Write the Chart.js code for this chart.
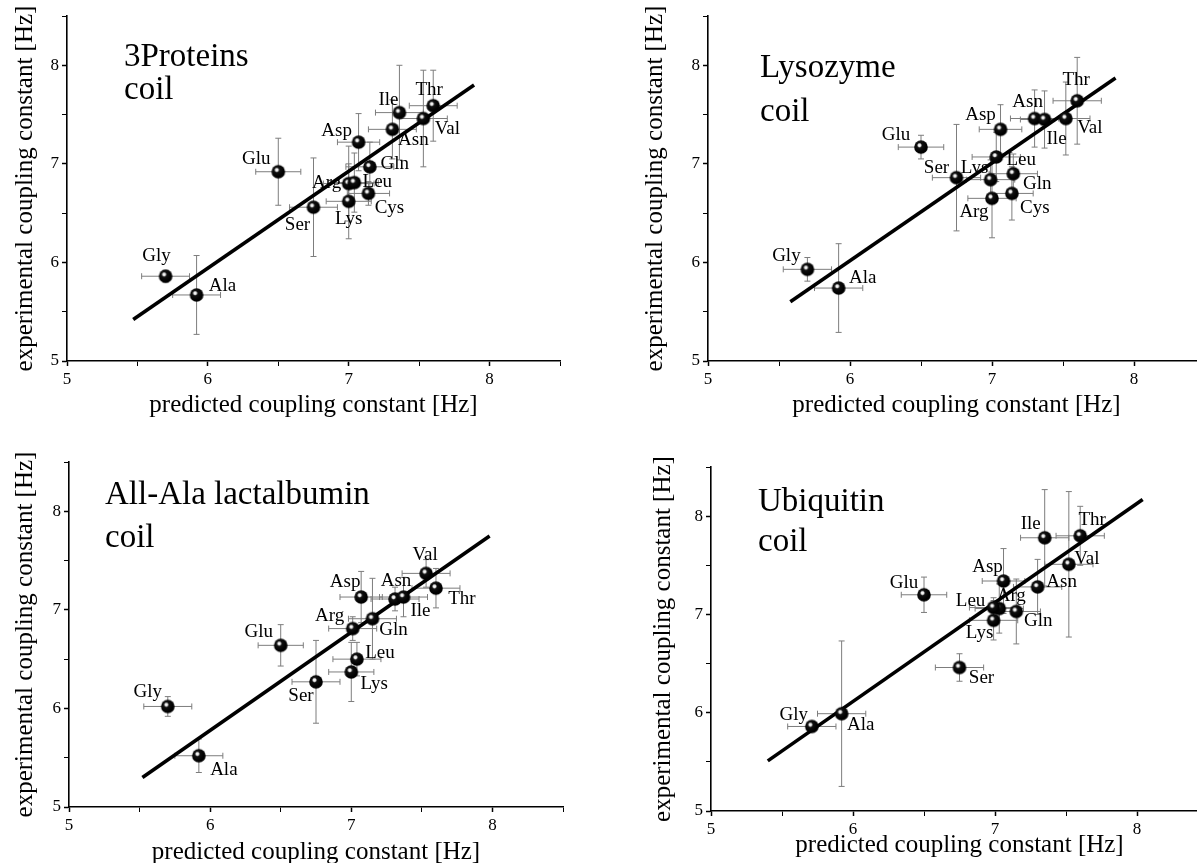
<!DOCTYPE html>
<html>
<head>
<meta charset="utf-8">
<script src="https://cdn.jsdelivr.net/npm/chart.js@4/dist/chart.umd.min.js"></script>
<style>
  html, body { margin: 0; padding: 0; background: #fff; overflow: hidden; width: 1197px; height: 863px; }
  canvas { position: absolute; }
  .ttl { position: absolute; font-family: "Liberation Serif", "Times New Roman", serif; font-size: 33px; line-height: 33px; color: #000; white-space: nowrap; }
</style>
</head>
<body>
<canvas id="c1" width="600" height="430" style="left:0;top:0"></canvas>
<canvas id="c2" width="620" height="430" style="left:600px;top:0"></canvas>
<canvas id="c3" width="600" height="450" style="left:0;top:430px"></canvas>
<canvas id="c4" width="620" height="450" style="left:600px;top:430px"></canvas>

<div class="ttl" style="left:124px;top:39px">3Proteins</div>
<div class="ttl" style="left:124px;top:72px">coil</div>
<div class="ttl" style="left:760px;top:50px">Lysozyme</div>
<div class="ttl" style="left:760px;top:94px">coil</div>
<div class="ttl" style="left:105px;top:477px">All-Ala lactalbumin</div>
<div class="ttl" style="left:105px;top:520px">coil</div>
<div class="ttl" style="left:758px;top:484px">Ubiquitin</div>
<div class="ttl" style="left:758px;top:524px">coil</div>

<script>
// residues, same order in every panel (null = not in that set)
const residues = ['Gly', 'Ala', 'Glu', 'Ser', 'Lys', 'Arg', 'Leu', 'Cys', 'Gln', 'Asp', 'Asn', 'Ile', 'Val', 'Thr'];

// 3Proteins coil
const proteinsPred    = [5.70, 5.92, 6.50, 6.75, 7.00, 7.00, 7.04, 7.14, 7.15, 7.07, 7.31, 7.36, 7.53, 7.60];
const proteinsExp     = [5.86, 5.67, 6.92, 6.56, 6.62, 6.80, 6.81, 6.70, 6.97, 7.22, 7.35, 7.52, 7.46, 7.59];
const proteinsPredErr = [0.17, 0.17, 0.16, 0.17, 0.16, 0.18, 0.17, 0.15, 0.17, 0.15, 0.17, 0.17, 0.17, 0.17];
const proteinsExpErr  = [0.06, 0.40, 0.34, 0.50, 0.38, 0.38, 0.30, 0.12, 0.25, 0.29, 0.30, 0.48, 0.49, 0.36];
const proteinsFitX = [5.47, 7.89];
const proteinsFitY = [5.42, 7.80];

// Lysozyme coil
const lysozymePred    = [5.70, 5.92, 6.50, 6.75, 6.99, 7.00, 7.03, 7.14, 7.15, 7.06, 7.30, 7.37, 7.52, 7.60];
const lysozymeExp     = [5.93, 5.74, 7.17, 6.86, 6.84, 6.65, 7.07, 6.70, 6.90, 7.35, 7.46, 7.45, 7.46, 7.64];
const lysozymePredErr = [0.17, 0.17, 0.16, 0.17, 0.17, 0.17, 0.17, 0.15, 0.17, 0.15, 0.17, 0.17, 0.17, 0.17];
const lysozymeExpErr  = [0.12, 0.45, 0.12, 0.54, 0.20, 0.40, 0.25, 0.27, 0.20, 0.25, 0.29, 0.29, 0.37, 0.44];
const lysozymeFitX = [5.58, 7.87];
const lysozymeFitY = [5.60, 7.87];

// All-Ala lactalbumin coil
const lactalbuminPred    = [5.70, 5.92, 6.50, 6.75, 7.00, 7.01, 7.04, null, 7.15, 7.07, 7.31, 7.37, 7.53, 7.60];
const lactalbuminExp     = [6.02, 5.52, 6.64, 6.27, 6.37, 6.81, 6.50, null, 6.91, 7.13, 7.11, 7.13, 7.37, 7.22];
const lactalbuminPredErr = [0.17, 0.17, 0.16, 0.17, 0.16, 0.17, 0.17, null, 0.17, 0.15, 0.17, 0.17, 0.17, 0.17];
const lactalbuminExpErr  = [0.10, 0.17, 0.21, 0.42, 0.30, 0.12, 0.17, null, 0.41, 0.26, 0.12, 0.20, 0.14, 0.20];
const lactalbuminFitX = [5.52, 7.98];
const lactalbuminFitY = [5.30, 7.75];

// Ubiquitin coil
const ubiquitinPred    = [5.71, 5.92, 6.50, 6.75, 6.99, 7.03, 6.99, null, 7.15, 7.06, 7.30, 7.35, 7.52, 7.60];
const ubiquitinExp     = [5.86, 5.99, 7.20, 6.46, 6.94, 7.06, 7.07, null, 7.03, 7.34, 7.28, 7.78, 7.51, 7.80];
const ubiquitinPredErr = [0.17, 0.17, 0.16, 0.17, 0.17, 0.17, 0.17, null, 0.17, 0.15, 0.17, 0.17, 0.17, 0.17];
const ubiquitinExpErr  = [0.04, 0.74, 0.18, 0.14, 0.20, 0.25, 0.10, null, 0.33, 0.33, 0.28, 0.49, 0.74, 0.30];
const ubiquitinFitX = [5.40, 8.04];
const ubiquitinFitY = [5.51, 8.17];

const axisTicks = [5, 6, 7, 8];

// where each residue name sits relative to its marker [dx, dy] px
const labelShift1 = [[-9,-20],[26,-9],[-22,-13],[-16,18],[0,18],[-22,-1],[23,-1],[21,15],[25,-3],[-22,-11],[21,11],[-11,-13],[24,11],[-4,-16]];
const labelShift2 = [[-21,-13],[24,-10],[-25,-12],[-20,-10],[-16,-12],[-18,14],[25,3],[23,15],[24,10],[-20,-14],[-7,-16],[12,20],[24,10],[-1,-21]];
const labelShift3 = [[-20,-14],[25,14],[-22,-13],[-15,14],[23,12],[-23,-13],[23,-6],null,[21,11],[-16,-15],[1,-18],[17,14],[-1,-18],[26,11]];
const labelShift4 = [[-18,-11],[19,11],[-20,-12],[22,11],[-14,13],[12,-13],[-23,-7],null,[22,10],[-16,-14],[24,-5],[-14,-14],[18,-5],[12,-16]];

const serif = '"Liberation Serif", "Times New Roman", serif';

function makeBall(r) {
  const c = document.createElement('canvas');
  const s = Math.ceil(r * 2) + 2;
  c.width = c.height = s;
  const g = c.getContext('2d');
  const cx = s / 2, cy = s / 2;
  const grad = g.createRadialGradient(cx - 1.5, cy - 1.8, 0, cx - 1.5, cy - 1.8, r);
  grad.addColorStop(0, '#fff');
  grad.addColorStop(0.2, '#e8e8e8');
  grad.addColorStop(0.38, '#111');
  grad.addColorStop(1, '#000');
  g.fillStyle = grad;
  g.beginPath();
  g.arc(cx, cy, r, 0, Math.PI * 2);
  g.fill();
  return c;
}
const ball = makeBall(6.8);

const errorBars = {
  id: 'errorBars',
  beforeDatasetsDraw(chart) {
    const xs = chart.scales.x, ys = chart.scales.y, ctx = chart.ctx;
    ctx.save();
    ctx.strokeStyle = '#7d7d7d';
    ctx.lineWidth = 1;
    chart.data.datasets[0].data.forEach(p => {
      const x = xs.getPixelForValue(p.x), y = ys.getPixelForValue(p.y);
      const x0 = xs.getPixelForValue(p.x - p.xe), x1 = xs.getPixelForValue(p.x + p.xe);
      const y0 = ys.getPixelForValue(p.y - p.ye), y1 = ys.getPixelForValue(p.y + p.ye);
      ctx.beginPath();
      ctx.moveTo(x0, y); ctx.lineTo(x1, y);
      ctx.moveTo(x0, y - 3); ctx.lineTo(x0, y + 3);
      ctx.moveTo(x1, y - 3); ctx.lineTo(x1, y + 3);
      ctx.moveTo(x, y0); ctx.lineTo(x, y1);
      ctx.moveTo(x - 3, y0); ctx.lineTo(x + 3, y0);
      ctx.moveTo(x - 3, y1); ctx.lineTo(x + 3, y1);
      ctx.stroke();
    });
    ctx.restore();
  }
};

const residueLabels = {
  id: 'residueLabels',
  afterDatasetsDraw(chart) {
    const xs = chart.scales.x, ys = chart.scales.y, ctx = chart.ctx;
    ctx.save();
    ctx.font = '19px ' + serif;
    ctx.fillStyle = '#000';
    ctx.textAlign = 'center';
    ctx.textBaseline = 'middle';
    chart.data.datasets[0].data.forEach(p => {
      ctx.fillText(p.name, xs.getPixelForValue(p.x) + p.shift[0], ys.getPixelForValue(p.y) + p.shift[1]);
    });
    ctx.restore();
  }
};

function axis(title, size, titlePad, fit) {
  return {
    type: 'linear', min: 5, max: 8.5,
    ticks: {
      stepSize: 0.5, autoSkip: false, maxRotation: 0, padding: 3,
      color: '#000', font: { family: serif, size: 17 },
      callback: v => axisTicks.includes(v) ? String(v) : ''
    },
    grid: {
      drawOnChartArea: false, drawTicks: true, tickLength: 5,
      tickColor: '#000', tickWidth: c => axisTicks.includes(c.tick && c.tick.value) ? 1.5 : 1
    },
    border: { display: true, color: '#000', width: 1.6 },
    title: { display: true, text: title, color: '#000', font: { family: serif, size: size, lineHeight: 1.2 }, padding: titlePad },
    afterFit: fit
  };
}

function makePanel(id, pred, exp, predErr, expErr, fitX, fitY, shifts, lay) {
  const pts = [];
  residues.forEach((name, i) => {
    if (exp[i] == null) return;
    pts.push({ x: pred[i], y: exp[i], xe: predErr[i], ye: expErr[i], name: name, shift: shifts[i] });
  });
  new Chart(document.getElementById(id), {
    type: 'scatter',
    data: {
      datasets: [
        { data: pts, pointStyle: ball, order: 0 },
        { type: 'line', showLine: true, data: fitX.map((x, i) => ({ x: x, y: fitY[i] })),
          borderColor: '#000', borderWidth: 3.6, pointRadius: 0, fill: false, order: 1 }
      ]
    },
    options: {
      responsive: false,
      animation: false,
      layout: { padding: { left: 0, top: lay.top, right: lay.right, bottom: 0 } },
      plugins: { legend: { display: false }, tooltip: { enabled: false } },
      scales: {
        x: axis('predicted coupling constant [Hz]', 25, { top: 0, bottom: lay.xTitlePad },
                s => { s.height = lay.xHeight; }),
        y: axis('experimental coupling constant [Hz]', 25, { top: lay.yTitlePad, bottom: 0 },
                s => { s.width = lay.yWidth; })
      }
    },
    plugins: [errorBars, residueLabels]
  });
}

makePanel('c1', proteinsPred, proteinsExp, proteinsPredErr, proteinsExpErr, proteinsFitX, proteinsFitY, labelShift1,
  { top: 16, right: 40, xHeight: 69, yWidth: 67, xTitlePad: 10, yTitlePad: 10 });
makePanel('c2', lysozymePred, lysozymeExp, lysozymePredErr, lysozymeExpErr, lysozymeFitX, lysozymeFitY, labelShift2,
  { top: 16, right: 15, xHeight: 69, yWidth: 108, xTitlePad: 10, yTitlePad: 40 });
makePanel('c3', lactalbuminPred, lactalbuminExp, lactalbuminPredErr, lactalbuminExpErr, lactalbuminFitX, lactalbuminFitY, labelShift3,
  { top: 32, right: 37, xHeight: 73, yWidth: 69, xTitlePad: 13, yTitlePad: 10 });
makePanel('c4', ubiquitinPred, ubiquitinExp, ubiquitinPredErr, ubiquitinExpErr, ubiquitinFitX, ubiquitinFitY, labelShift4,
  { top: 37, right: 12, xHeight: 69, yWidth: 111, xTitlePad: 20, yTitlePad: 48 });
</script>
</body>
</html>
